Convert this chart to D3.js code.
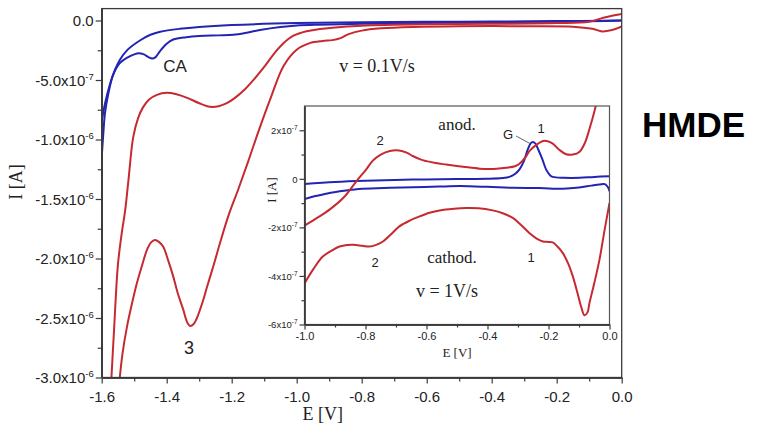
<!DOCTYPE html>
<html>
<head>
<meta charset="utf-8">
<script src="https://cdn.jsdelivr.net/npm/d3@7"></script>
<style>
  html, body { margin: 0; padding: 0; background: #fff; }
  svg { display: block; }
</style>
</head>
<body>
<svg id="chart" width="761" height="433"></svg>
<script>
// ---- Main voltammogram, v = 0.1 V/s (E in V, I in µA-scale units of 1e-6 A) ----
const mainXTicks = [-1.6, -1.4, -1.2, -1.0, -0.8, -0.6, -0.4, -0.2, 0.0];
const mainYTicks = [0, -0.5, -1.0, -1.5, -2.0, -2.5, -3.0];
const mainYTickLabels = [["0.0", ""], ["-5.0x10", "-7"], ["-1.0x10", "-6"], ["-1.5x10", "-6"],
                         ["-2.0x10", "-6"], ["-2.5x10", "-6"], ["-3.0x10", "-6"]];

// blank electrolyte with CA, two scan branches
const mainBlueUpper = [[-1.6,-0.85],[-1.59,-0.7],[-1.574,-0.53],[-1.56,-0.42],[-1.544,-0.33],[-1.52,-0.245],
  [-1.48,-0.164],[-1.45,-0.12],[-1.42,-0.095],[-1.36,-0.07],[-1.30,-0.054],[-1.2,-0.038],[-1.0,-0.022],
  [-0.8,-0.015],[-0.5,-0.01],[-0.2,-0.005],[0,0.0]];
const mainBlueCA = [[-1.6,-1.15],[-1.595,-0.95],[-1.59,-0.78],[-1.58,-0.62],[-1.565,-0.46],[-1.545,-0.36],
  [-1.52,-0.31],[-1.50,-0.285],[-1.487,-0.275],[-1.47,-0.285],[-1.455,-0.31],[-1.445,-0.32],[-1.435,-0.31],
  [-1.42,-0.255],[-1.40,-0.195],[-1.38,-0.16],[-1.34,-0.14],[-1.30,-0.13],[-1.24,-0.125],[-1.195,-0.12],
  [-1.15,-0.10],[-1.113,-0.08],[-1.05,-0.055],[-1.0,-0.042],[-0.93,-0.035],[-0.8,-0.028],[-0.6,-0.02],
  [-0.4,-0.015],[-0.2,-0.01],[-0.05,-0.005],[0,0.0]];

// with analyte, two scan branches
const mainRedOuter = [[-1.572,-3.1],[-1.562,-2.6],[-1.55,-2.05],[-1.538,-1.78],[-1.528,-1.6],[-1.518,-1.35],
  [-1.503,-0.98],[-1.488,-0.82],[-1.473,-0.73],[-1.455,-0.665],[-1.43,-0.625],[-1.40,-0.608],[-1.37,-0.62],
  [-1.337,-0.65],[-1.30,-0.695],[-1.267,-0.725],[-1.24,-0.72],[-1.215,-0.695],[-1.19,-0.65],[-1.16,-0.58],
  [-1.13,-0.49],[-1.10,-0.39],[-1.07,-0.28],[-1.04,-0.19],[-1.01,-0.128],[-0.97,-0.09],[-0.93,-0.072],
  [-0.89,-0.06],[-0.8,-0.044],[-0.6,-0.032],[-0.4,-0.028],[-0.2,-0.022],[-0.1,-0.01],[-0.06,0.02],
  [-0.03,0.04],[0,0.055]];
const mainRedInner = [[-1.548,-3.1],[-1.536,-2.8],[-1.522,-2.57],[-1.507,-2.38],[-1.492,-2.21],[-1.476,-2.06],
  [-1.461,-1.93],[-1.448,-1.865],[-1.436,-1.845],[-1.424,-1.86],[-1.411,-1.90],[-1.395,-2.02],[-1.38,-2.15],
  [-1.365,-2.30],[-1.349,-2.43],[-1.338,-2.53],[-1.328,-2.567],[-1.317,-2.55],[-1.307,-2.50],[-1.29,-2.37],
  [-1.276,-2.24],[-1.255,-2.05],[-1.236,-1.87],[-1.21,-1.64],[-1.18,-1.42],[-1.15,-1.19],[-1.12,-0.95],
  [-1.08,-0.65],[-1.04,-0.38],[-1.0,-0.245],[-0.96,-0.19],[-0.92,-0.172],[-0.89,-0.165],[-0.865,-0.148],
  [-0.84,-0.115],[-0.80,-0.085],[-0.74,-0.066],[-0.64,-0.054],[-0.5,-0.048],[-0.3,-0.048],[-0.15,-0.052],
  [-0.09,-0.07],[-0.06,-0.092],[-0.03,-0.08],[0,-0.05]];

// ---- Inset voltammogram, v = 1 V/s (I in units of 1e-7 A) ----
const insetXTicks = [-1.0, -0.8, -0.6, -0.4, -0.2, 0.0];
const insetYTicks = [2, 0, -2, -4, -6];
const insetYTickLabels = [["2x10", "-7"], ["0", ""], ["-2x10", "-7"], ["-4x10", "-7"], ["-6x10", "-7"]];

const insetRedAnodic = [[-1,-1.93],[-0.96,-1.62],[-0.918,-1.27],[-0.87,-0.75],[-0.83,-0.10],[-0.80,0.35],
  [-0.776,0.75],[-0.75,1.0],[-0.72,1.15],[-0.69,1.17],[-0.665,1.08],[-0.645,0.94],[-0.62,0.80],[-0.60,0.73],
  [-0.57,0.65],[-0.536,0.59],[-0.48,0.50],[-0.426,0.42],[-0.38,0.41],[-0.339,0.46],[-0.31,0.52],[-0.295,0.62],
  [-0.275,0.90],[-0.262,1.15],[-0.24,1.40],[-0.218,1.56],[-0.20,1.54],[-0.186,1.45],[-0.165,1.2],
  [-0.142,1.01],[-0.12,1.0],[-0.098,1.12],[-0.08,1.5],[-0.066,2.04],[-0.05,2.75],[-0.04,3.3]];
const insetRedCathodic = [[-1,-4.31],[-0.97,-3.7],[-0.94,-3.2],[-0.91,-2.95],[-0.885,-2.79],[-0.86,-2.73],
  [-0.84,-2.72],[-0.81,-2.76],[-0.787,-2.79],[-0.765,-2.72],[-0.743,-2.58],[-0.715,-2.27],[-0.689,-1.96],
  [-0.655,-1.72],[-0.623,-1.55],[-0.59,-1.40],[-0.557,-1.30],[-0.51,-1.23],[-0.47,-1.20],[-0.43,-1.21],
  [-0.383,-1.30],[-0.35,-1.42],[-0.317,-1.61],[-0.29,-1.90],[-0.262,-2.24],[-0.24,-2.45],[-0.218,-2.58],
  [-0.20,-2.60],[-0.186,-2.62],[-0.17,-2.8],[-0.153,-3.06],[-0.135,-3.5],[-0.12,-4.03],[-0.105,-4.7],
  [-0.093,-5.27],[-0.082,-5.62],[-0.072,-5.5],[-0.066,-5.13],[-0.05,-4.3],[-0.033,-3.34],[-0.016,-2.10],
  [0,-0.99]];
const insetBlueAnodic = [[-1,-0.21],[-0.9,-0.13],[-0.8,-0.08],[-0.645,-0.03],[-0.5,-0.01],[-0.40,0.0],
  [-0.35,0.03],[-0.328,0.08],[-0.31,0.2],[-0.295,0.39],[-0.28,0.75],[-0.268,1.21],[-0.258,1.47],
  [-0.251,1.52],[-0.243,1.45],[-0.235,1.25],[-0.22,0.8],[-0.208,0.39],[-0.195,0.15],[-0.186,0.08],
  [-0.15,0.04],[-0.098,0.04],[-0.05,0.08],[0,0.11]];
const insetBlueCathodic = [[-1,-0.83],[-0.96,-0.70],[-0.918,-0.58],[-0.87,-0.49],[-0.81,-0.41],[-0.72,-0.37],
  [-0.645,-0.35],[-0.56,-0.32],[-0.49,-0.30],[-0.40,-0.33],[-0.317,-0.37],[-0.23,-0.38],[-0.153,-0.41],
  [-0.10,-0.36],[-0.06,-0.28],[-0.033,-0.23],[-0.015,-0.22],[-0.005,-0.35],[0,-0.51]];

// ---- styling ----
const RED = "#c62a30";
const BLUE = "#2424b4";
const AXIS = "#3a3a3a";
const SANS = "Arial, 'Liberation Sans', Helvetica, sans-serif";
const SERIF = "'Times New Roman', 'Liberation Serif', serif";

const svg = d3.select("#chart");
svg.append("rect").attr("width", 761).attr("height", 433).attr("fill", "#fff");

// main scales
const mx = d3.scaleLinear().domain([-1.6, 0]).range([101.7, 621.7]);
const my = d3.scaleLinear().domain([-3.0, 0.1]).range([377.5, 8.6]);
// inset scales
const ix = d3.scaleLinear().domain([-1.0, 0]).range([304.5, 609.5]);
const iy = d3.scaleLinear().domain([-6, 3]).range([324.5, 106]);

const defs = svg.append("defs");
defs.append("clipPath").attr("id", "clipMain").append("rect")
  .attr("x", mx(-1.6)).attr("y", my(0.1)).attr("width", mx(0) - mx(-1.6)).attr("height", my(-3) - my(0.1));
defs.append("clipPath").attr("id", "clipInset").append("rect")
  .attr("x", ix(-1)).attr("y", iy(3)).attr("width", ix(0) - ix(-1)).attr("height", iy(-6) - iy(3));

function supLabel(textSel, parts, supSize, rise) {
  textSel.each(function() {
    const t = d3.select(this);
    const [base, exp] = parts(t.datum());
    t.text(null);
    t.append("tspan").text(base);
    if (exp) t.append("tspan").attr("font-size", supSize).attr("dy", -rise).text(exp);
  });
}

function styleAxis(g) {
  g.select(".domain").attr("stroke", AXIS).attr("stroke-width", 1.3);
  g.selectAll(".tick line").attr("stroke", AXIS).attr("stroke-width", 1.2);
}

// ---- main plot ----
const mainLine = d3.line().x(d => mx(d[0])).y(d => my(d[1])).curve(d3.curveCatmullRom.alpha(0.5));
const mainCurves = svg.append("g").attr("clip-path", "url(#clipMain)");
[[mainBlueUpper, BLUE], [mainBlueCA, BLUE], [mainRedOuter, RED], [mainRedInner, RED]].forEach(([data, c]) => {
  mainCurves.append("path").datum(data).attr("d", mainLine)
    .attr("fill", "none").attr("stroke", c).attr("stroke-width", 2).attr("stroke-linejoin", "round");
});

// main frame
svg.append("rect").attr("x", mx(-1.6)).attr("y", my(0.1))
  .attr("width", mx(0) - mx(-1.6)).attr("height", my(-3) - my(0.1))
  .attr("fill", "none").attr("stroke", AXIS).attr("stroke-width", 1.3);

// main minor ticks
const mainXMinor = d3.range(-1.5, 0, 0.2).map(v => +v.toFixed(2));
const mainYMinor = d3.range(-2.75, 0, 0.5).map(v => +v.toFixed(2));
svg.append("g").attr("transform", `translate(0,${my(-3)})`)
  .call(d3.axisBottom(mx).tickValues(mainXMinor).tickSize(4).tickSizeOuter(0).tickFormat(""))
  .call(styleAxis);
svg.append("g").attr("transform", `translate(${mx(-1.6)},0)`)
  .call(d3.axisLeft(my).tickValues(mainYMinor).tickSize(4).tickSizeOuter(0).tickFormat(""))
  .call(styleAxis);

// main major axes
const gmx = svg.append("g").attr("transform", `translate(0,${my(-3)})`)
  .call(d3.axisBottom(mx).tickValues(mainXTicks).tickSize(6).tickSizeOuter(0).tickFormat(d => d.toFixed(1)))
  .call(styleAxis);
gmx.selectAll("text").attr("y", 14).attr("dy", "0.71em")
  .attr("font-family", SANS).attr("font-size", 15).attr("fill", "#222");

const gmy = svg.append("g").attr("transform", `translate(${mx(-1.6)},0)`)
  .call(d3.axisLeft(my).tickValues(mainYTicks).tickSize(6).tickSizeOuter(0).tickFormat(d => d))
  .call(styleAxis);
gmy.selectAll("text").attr("x", -8).attr("dy", "0.36em")
  .attr("font-family", SANS).attr("font-size", 15).attr("fill", "#222")
  .call(supLabel, d => mainYTickLabels[mainYTicks.indexOf(d)], 9.5, 6);
gmy.selectAll("text").each(function() {
  // bring the baseline back after the raised exponent
  d3.select(this).attr("dy", "0.36em");
});

svg.append("text").attr("x", mx(-0.92)).attr("y", 420).attr("text-anchor", "middle")
  .attr("font-family", SERIF).attr("font-size", 18).attr("fill", "#222").text("E [V]");
svg.append("text").attr("transform", "translate(22,182) rotate(-90)").attr("text-anchor", "middle")
  .attr("font-family", SERIF).attr("font-size", 18).attr("fill", "#222").text("I [A]");

// main annotations
svg.append("text").attr("x", 175).attr("y", 72).attr("text-anchor", "middle")
  .attr("font-family", SANS).attr("font-size", 17).attr("fill", "#222").text("CA");
svg.append("text").attr("x", 377).attr("y", 72).attr("text-anchor", "middle")
  .attr("font-family", SERIF).attr("font-size", 18).attr("fill", "#222").text("v = 0.1V/s");
svg.append("text").attr("x", 189).attr("y", 354).attr("text-anchor", "middle")
  .attr("font-family", SANS).attr("font-size", 18).attr("fill", "#222").text("3");

// ---- inset ----
svg.append("rect").attr("x", ix(-1)).attr("y", iy(3))
  .attr("width", ix(0) - ix(-1)).attr("height", iy(-6) - iy(3))
  .attr("fill", "#fff");

const insetLine = d3.line().x(d => ix(d[0])).y(d => iy(d[1])).curve(d3.curveCatmullRom.alpha(0.5));
const insetCurves = svg.append("g").attr("clip-path", "url(#clipInset)");
[[insetBlueCathodic, BLUE], [insetBlueAnodic, BLUE], [insetRedCathodic, RED], [insetRedAnodic, RED]].forEach(([data, c]) => {
  insetCurves.append("path").datum(data).attr("d", insetLine)
    .attr("fill", "none").attr("stroke", c).attr("stroke-width", 2).attr("stroke-linejoin", "round");
});

svg.append("rect").attr("x", ix(-1)).attr("y", iy(3))
  .attr("width", ix(0) - ix(-1)).attr("height", iy(-6) - iy(3))
  .attr("fill", "none").attr("stroke", "#555").attr("stroke-width", 1.2);

const insetXMinor = d3.range(-0.9, 0, 0.2).map(v => +v.toFixed(2));
const insetYMinor = d3.range(-5, 3, 2);
svg.append("g").attr("transform", `translate(0,${iy(-6)})`)
  .call(d3.axisBottom(ix).tickValues(insetXMinor).tickSize(3).tickSizeOuter(0).tickFormat(""))
  .call(styleAxis);
svg.append("g").attr("transform", `translate(${ix(-1)},0)`)
  .call(d3.axisLeft(iy).tickValues(insetYMinor).tickSize(3).tickSizeOuter(0).tickFormat(""))
  .call(styleAxis);

const gix = svg.append("g").attr("transform", `translate(0,${iy(-6)})`)
  .call(d3.axisBottom(ix).tickValues(insetXTicks).tickSize(5).tickSizeOuter(0).tickFormat(d => d.toFixed(1)))
  .call(styleAxis);
gix.selectAll("text").attr("y", 8).attr("dy", "0.71em")
  .attr("font-family", SANS).attr("font-size", 11).attr("fill", "#222");

const giy = svg.append("g").attr("transform", `translate(${ix(-1)},0)`)
  .call(d3.axisLeft(iy).tickValues(insetYTicks).tickSize(5).tickSizeOuter(0).tickFormat(d => d))
  .call(styleAxis);
giy.selectAll("text").attr("x", -7).attr("dy", "0.36em")
  .attr("font-family", SANS).attr("font-size", 9.5).attr("fill", "#222")
  .call(supLabel, d => insetYTickLabels[insetYTicks.indexOf(d)], 6.5, 4);

svg.append("text").attr("x", ix(-0.5)).attr("y", 357).attr("text-anchor", "middle")
  .attr("font-family", SERIF).attr("font-size", 13).attr("fill", "#222").text("E [V]");
svg.append("text").attr("transform", "translate(276,190) rotate(-90)").attr("text-anchor", "middle")
  .attr("font-family", SERIF).attr("font-size", 13).attr("fill", "#222").text("I [A]");

// inset annotations
const insetNotes = [
  { t: "anod.", x: 457, y: 130, f: SERIF, s: 17 },
  { t: "G", x: 508, y: 139, f: SANS, s: 13 },
  { t: "1", x: 541, y: 133, f: SANS, s: 13 },
  { t: "2", x: 380, y: 145, f: SANS, s: 13 },
  { t: "cathod.", x: 452, y: 263, f: SERIF, s: 17 },
  { t: "2", x: 375, y: 267, f: SANS, s: 13 },
  { t: "1", x: 531, y: 262, f: SANS, s: 13 },
  { t: "v = 1V/s", x: 447, y: 297, f: SERIF, s: 18 }
];
svg.append("g").selectAll("text").data(insetNotes).join("text")
  .attr("x", d => d.x).attr("y", d => d.y).attr("text-anchor", "middle")
  .attr("font-family", d => d.f).attr("font-size", d => d.s).attr("fill", "#222").text(d => d.t);
// pointer from "G" to its peak
svg.append("line").attr("x1", 516).attr("y1", 136).attr("x2", ix(-0.26)).attr("y2", iy(1.45))
  .attr("stroke", "#555").attr("stroke-width", 0.9);

// electrode label
svg.append("text").attr("x", 642).attr("y", 137)
  .attr("font-family", SANS).attr("font-size", 35).attr("font-weight", "bold").attr("fill", "#000").text("HMDE");
</script>
</body>
</html>
